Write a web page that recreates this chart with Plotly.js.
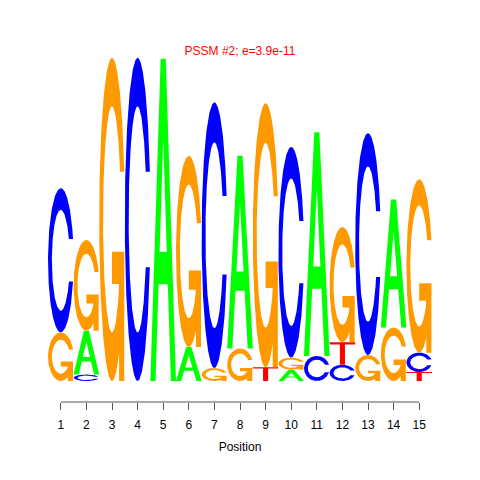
<!DOCTYPE html>
<html><head><meta charset="utf-8">
<script src="https://cdn.plot.ly/plotly-3.0.1.min.js"></script>
<style>html,body{margin:0;padding:0;background:#fff}</style>
</head><body><div id="chart" style="width:480px;height:480px"></div>
<script>
// ---- data (information content in bits per letter and position) ----
const positions  = [1,2,3,4,5,6,7,8,9,10,11,12,13,14,15];
const tickLabels = ['1','2','3','4','5','6','7','8','9','10','11','12','13','14','15'];
const bitsA = [0,    0.27, 0,     0,     1.99, 0.21, 0,    1.19, 0,     0.07,  1.38,  0,    0,    0.79, 0];
const bitsC = [0.89, 0.04, 0,     1.995, 0,    0,    1.64, 0,    0,     1.30,  0.155, 0.10, 1.37, 0,    0.12];
const bitsG = [0.30, 0.56, 1.995, 0,     0,    1.18, 0.08, 0.20, 1.63,  0.075, 0,     0.71, 0.16, 0.33, 1.07];
const bitsT = [0,    0,    0,     0,     0,    0,    0,    0,    0.085, 0,     0,     0.14, 0,    0,    0.055];
const titleText = 'PSSM #2; e=3.9e-11';
const xTitle = 'Position';

// ---- glyph templates in a unit box (seqLogo style polygons) ----
const COLORS = {A:'#00ff00', C:'#0000ff', G:'#ff9900', T:'#ff0000'};
function seq(a,b,n){const r=[];for(let i=0;i<n;i++)r.push(a+(b-a)*i/(n-1));return r;}
function ringC(){
  const a1 = seq(0.3+Math.PI/2, Math.PI, 100), a2 = seq(Math.PI, 1.5*Math.PI, 100);
  const xl1=a1.map(a=>0.5+0.5*Math.sin(a)), yl1=a1.map(a=>0.5+0.5*Math.cos(a));
  const xl2=a2.map(a=>0.5+0.5*Math.sin(a)), yl2=a2.map(a=>0.5+0.5*Math.cos(a));
  const xl=xl1.concat(xl2), yl=yl1.concat(yl2);
  let x=xl.concat(xl.slice().reverse());
  let y=yl.concat(yl.slice().reverse().map(v=>1-v));
  const maxY=Math.max(...yl1);
  let xi1=a1.map(a=>0.5+0.35*Math.sin(a)), yi1=a1.map(a=>0.5+0.35*Math.cos(a));
  const keep=yi1.map(v=>v<=maxY);
  xi1=xi1.filter((v,i)=>keep[i]); yi1=yi1.filter((v,i)=>keep[i]);
  yi1[0]=maxY;
  const xi2=a2.map(a=>0.5+0.35*Math.sin(a)), yi2=a2.map(a=>0.5+0.35*Math.cos(a));
  const xi=xi1.concat(xi2), yi=yi1.concat(yi2);
  const x1=xi.concat(xi.slice().reverse());
  const y1=yi.concat(yi.slice().reverse().map(v=>1-v));
  x=x.concat(x1.slice().reverse()); y=y.concat(y1.slice().reverse());
  return {x, y, r1: Math.max(...xl1)};
}
function glyph(letter){
  // returns list of polygons {x,y,fill}
  if(letter==='A'){
    return [
      {x:[0,4,6,10,8,6.8,3.2,2,0].map(v=>v/10), y:[0,10,10,0,0,3,3,0,0].map(v=>v/10), fill:COLORS.A},
      {x:[3.6,5,6.4,3.6].map(v=>v/10), y:[4,7.5,4,4].map(v=>v/10), fill:'#ffffff'}
    ];
  }
  if(letter==='T'){
    return [{x:[0,10,10,6,6,4,4,0].map(v=>v/10), y:[10,10,9,9,0,0,9,9].map(v=>v/10), fill:COLORS.T}];
  }
  const c = ringC();
  if(letter==='C') return [{x:c.x, y:c.y, fill:COLORS.C}];
  const r1=c.r1, h1=0.4;
  return [
    {x:c.x, y:c.y, fill:COLORS.G},
    {x:[r1,0.5,0.5,r1-0.2,r1-0.2,r1,r1], y:[h1,h1,h1-0.1,h1-0.1,0,0,h1], fill:COLORS.G}
  ];
}

// ---- build traces: stack letters ascending by height ----
const traces=[];
positions.forEach((p,i)=>{
  const stack=[['A',bitsA[i]],['C',bitsC[i]],['G',bitsG[i]],['T',bitsT[i]]]
    .filter(d=>d[1]>0).sort((a,b)=>a[1]-b[1]);
  let y0=0;
  stack.forEach(([L,h])=>{
    glyph(L).forEach(poly=>{
      traces.push({
        type:'scatter', mode:'lines', fill:'toself',
        x: poly.x.map(u=>p-0.5+u),
        y: poly.y.map(v=>y0+v*h),
        fillcolor: poly.fill, line:{width:0, color:poly.fill},
        hoverinfo:'skip', showlegend:false
      });
    });
    y0+=h;
  });
});

const font='"Liberation Sans", Arial, Helvetica, sans-serif';
const layout={
  width:480, height:480,
  margin:{l:48, r:48, t:40, b:78},
  paper_bgcolor:'#fff', plot_bgcolor:'#fff',
  showlegend:false,
  title:{text:titleText, font:{family:font, size:12, color:'#ff0000'},
         x:0.5, xref:'paper', xanchor:'center', y:1-51/480, yref:'container', yanchor:'middle'},
  xaxis:{range:[positions[0]-0.5, positions[positions.length-1]+0.5],
         tickmode:'array', tickvals:positions, ticktext:tickLabels,
         ticks:'outside', ticklen:7, tickwidth:1, tickcolor:'#555',
         ticklabelstandoff:5,
         showline:false, showgrid:false, zeroline:false,
         tickfont:{family:font, size:12, color:'#000'},
         title:{text:xTitle, font:{family:font, size:12, color:'#000'}, standoff:11},
         fixedrange:true},
  yaxis:{range:[-0.1296, 2.105], visible:false, fixedrange:true},
  shapes:[{type:'line', xref:'x', yref:'paper',
           x0:positions[0], x1:positions[positions.length-1], y0:0, y1:0,
           line:{color:'#555', width:1}}]
};
Plotly.newPlot('chart', traces, layout, {displayModeBar:false, staticPlot:true});
</script></body></html>
